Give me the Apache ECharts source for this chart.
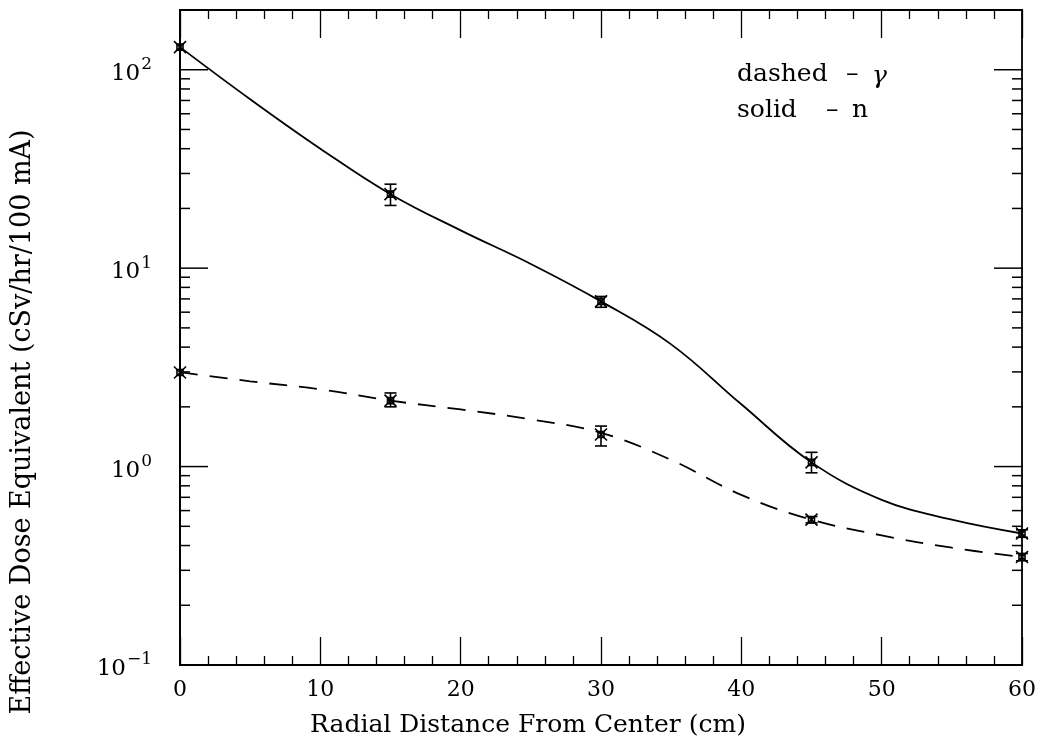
<!DOCTYPE html>
<html>
<head>
<meta charset="utf-8">
<script src="https://cdn.jsdelivr.net/npm/echarts@6/dist/echarts.min.js"></script>
<style>
html,body{margin:0;padding:0;background:#fff;}
#chart{width:1040px;height:736px;}
</style>
</head>
<body>
<div id="chart"></div>
<script>
// ---- data ----
const distance = [0, 15, 30, 45, 60];
const neutronDose = [130, 23.6, 6.8, 1.05, 0.46];
const neutronLow  = [130, 20.7, 6.35, 0.93, 0.44];
const neutronHigh = [130, 26.5, 7.2, 1.18, 0.48];
const gammaDose = [2.98, 2.15, 1.45, 0.54, 0.35];
const gammaLow  = [2.98, 2.0, 1.27, 0.52, 0.335];
const gammaHigh = [2.98, 2.35, 1.6, 0.56, 0.365];

const curveX = [0, 5, 10, 15, 20, 25, 30, 35, 40, 45, 50, 55, 60];
const neutronCurve = [130, 71, 40, 23.6, 15.5, 10.5, 6.8, 4.13, 2.06, 1.05, 0.68, 0.54, 0.46];
const gammaCurve = [2.99, 2.69, 2.45, 2.15, 1.94, 1.73, 1.48, 1.08, 0.72, 0.54, 0.45, 0.39, 0.35];

const xTickLabels = ['0', '10', '20', '30', '40', '50', '60'];
const yMajorTicks = [0.1, 1, 10, 100];
const yExponents = ['\u22121', '0', '1', '2'];
const yMinorMultipliers = [2, 3, 4, 5, 6, 7, 8, 9];

const xTitle = 'Radial Distance From Center (cm)';
const yTitle = 'Effective Dose Equivalent (cSv/hr/100 mA)';
const legendWords = ['dashed', 'solid'];
const legendSymbols = ['\u03b3', 'n'];
const legendDash = '\u2013';

// ---- chart ----
const FONT = 'DejaVu Serif';
const chart = echarts.init(document.getElementById('chart'), null, {renderer: 'canvas'});

const yTickValues = [];
const yTickMajor = [];
yMajorTicks.forEach(function (d) {
  yTickValues.push(d); yTickMajor.push(1);
  yMinorMultipliers.forEach(function (m) {
    const v = d * m;
    if (v < 200) { yTickValues.push(v); yTickMajor.push(0); }
  });
});

function pairs(xs, ys) { return xs.map(function (x, i) { return [x, ys[i]]; }); }

function markerRender(params, api) {
  const x = api.value(0), y = api.value(1), lo = api.value(2), hi = api.value(3);
  const c = api.coord([x, y]);
  const cl = api.coord([x, lo]);
  const ch = api.coord([x, hi]);
  const s = 6, cap = 6;
  const st = {stroke: '#000', lineWidth: 1.6, fill: 'none'};
  const children = [
    {type: 'line', shape: {x1: c[0] - s, y1: c[1] - s, x2: c[0] + s, y2: c[1] + s}, style: st},
    {type: 'line', shape: {x1: c[0] - s, y1: c[1] + s, x2: c[0] + s, y2: c[1] - s}, style: st},
    {type: 'rect', shape: {x: c[0] - 3, y: c[1] - 3, width: 6, height: 6}, style: st}
  ];
  if (Math.abs(cl[1] - ch[1]) > 2) {
    children.push(
      {type: 'line', shape: {x1: c[0], y1: ch[1], x2: c[0], y2: cl[1]}, style: st},
      {type: 'line', shape: {x1: c[0] - cap, y1: ch[1], x2: c[0] + cap, y2: ch[1]}, style: st},
      {type: 'line', shape: {x1: c[0] - cap, y1: cl[1], x2: c[0] + cap, y2: cl[1]}, style: st}
    );
  }
  return {type: 'group', children: children};
}

function yLabel(v) {
  const i = yMajorTicks.findIndex(function (t) { return Math.abs(Math.log10(t) - Math.log10(v)) < 1e-6; });
  if (i < 0) return '';
  return '{b|10}{s|' + yExponents[i] + '}';
}

const xAxisCommon = {
  type: 'value', min: 0, max: 60, interval: 10,
  axisLine: {show: true, onZero: false, lineStyle: {color: '#000', width: 1.8}},
  axisTick: {show: true, inside: true, length: 28, lineStyle: {color: '#000', width: 1.3}},
  minorTick: {show: true, splitNumber: 5, length: 9, lineStyle: {color: '#000', width: 1.3}},
  splitLine: {show: false},
  minorSplitLine: {show: false}
};

function txt(x, y, text, size, extra) {
  return {type: 'text', x: x, y: y, style: Object.assign({text: text, fontFamily: FONT, fontSize: size, fill: '#000',
    textAlign: 'left', textVerticalAlign: 'middle'}, extra || {})};
}

const baseGraphics = [
  {type: 'text', x: 23, y: 422, rotation: Math.PI / 2,
    style: {text: yTitle, fontFamily: FONT, fontSize: 27, fill: '#000', textAlign: 'center', textVerticalAlign: 'middle'}},
  txt(528, 725, xTitle, 25, {textAlign: 'center'}),
  txt(737, 74, legendWords[0], 25),
  txt(846, 74, legendDash, 25),
  txt(872, 76, legendSymbols[0], 25, {fontStyle: 'italic'}),
  txt(737, 110, legendWords[1], 25),
  txt(826, 110, legendDash, 25),
  txt(852, 110, legendSymbols[1], 25)
];

const option = {
  animation: false,
  backgroundColor: '#fff',
  grid: {left: 180, right: 18, top: 10, bottom: 71, containLabel: false,
    show: true, borderColor: '#000', borderWidth: 1.8, backgroundColor: 'transparent'},
  xAxis: [
    Object.assign({}, xAxisCommon, {
      position: 'bottom',
      axisLabel: {show: true, margin: 14, color: '#000', fontFamily: FONT, fontSize: 22,
        formatter: function (v) { return xTickLabels[Math.round(v / 10)]; }}
    }),
    Object.assign({}, xAxisCommon, {position: 'top', axisLabel: {show: false}})
  ],
  yAxis: {
    type: 'log', logBase: 10, min: 0.1, max: 200, position: 'left',
    axisLine: {show: true, onZero: false, lineStyle: {color: '#000', width: 1.8}},
    axisTick: {show: false},
    splitLine: {show: false},
    axisLabel: {show: true, margin: 28, color: '#000', fontFamily: FONT, formatter: yLabel,
      rich: {
        b: {fontFamily: FONT, fontSize: 23, color: '#000', padding: [8, 0, 0, 0]},
        s: {fontFamily: FONT, fontSize: 17, color: '#000', padding: [0, 0, 10, 1]}
      }}
  },
  graphic: baseGraphics,
  series: [
    {type: 'line', name: 'n curve', data: pairs(curveX, neutronCurve), smooth: 0.4, symbol: 'none',
      lineStyle: {color: '#000', width: 1.8}, xAxisIndex: 0, yAxisIndex: 0},
    {type: 'line', name: 'gamma curve', data: pairs(curveX, gammaCurve), smooth: 0.4, symbol: 'none',
      lineStyle: {color: '#000', width: 1.8, type: [18, 12]}, xAxisIndex: 0, yAxisIndex: 0},
    {type: 'custom', name: 'n points', renderItem: markerRender,
      data: distance.map(function (x, i) { return [x, neutronDose[i], neutronLow[i], neutronHigh[i]]; }),
      clip: false, z: 5},
    {type: 'custom', name: 'gamma points', renderItem: markerRender,
      data: distance.map(function (x, i) { return [x, gammaDose[i], gammaLow[i], gammaHigh[i]]; }),
      clip: false, z: 5}
  ]
};
chart.setOption(option);

// y ticks on the left and right frame, placed through the chart's own log scale
const tickGraphics = [];
yTickValues.forEach(function (v, i) {
  const len = yTickMajor[i] ? 28 : 10;
  const pl = chart.convertToPixel({xAxisIndex: 0, yAxisIndex: 0}, [0, v]);
  const pr = chart.convertToPixel({xAxisIndex: 0, yAxisIndex: 0}, [60, v]);
  tickGraphics.push({type: 'line', z: 100, silent: true,
    shape: {x1: pl[0] - 1, y1: pl[1], x2: pl[0] + len, y2: pl[1]}, style: {stroke: '#000', lineWidth: 1.5}});
  tickGraphics.push({type: 'line', z: 100, silent: true,
    shape: {x1: pr[0] + 1, y1: pr[1], x2: pr[0] - len, y2: pr[1]}, style: {stroke: '#000', lineWidth: 1.5}});
});
chart.setOption({graphic: baseGraphics.concat(tickGraphics)});
</script>
</body>
</html>
